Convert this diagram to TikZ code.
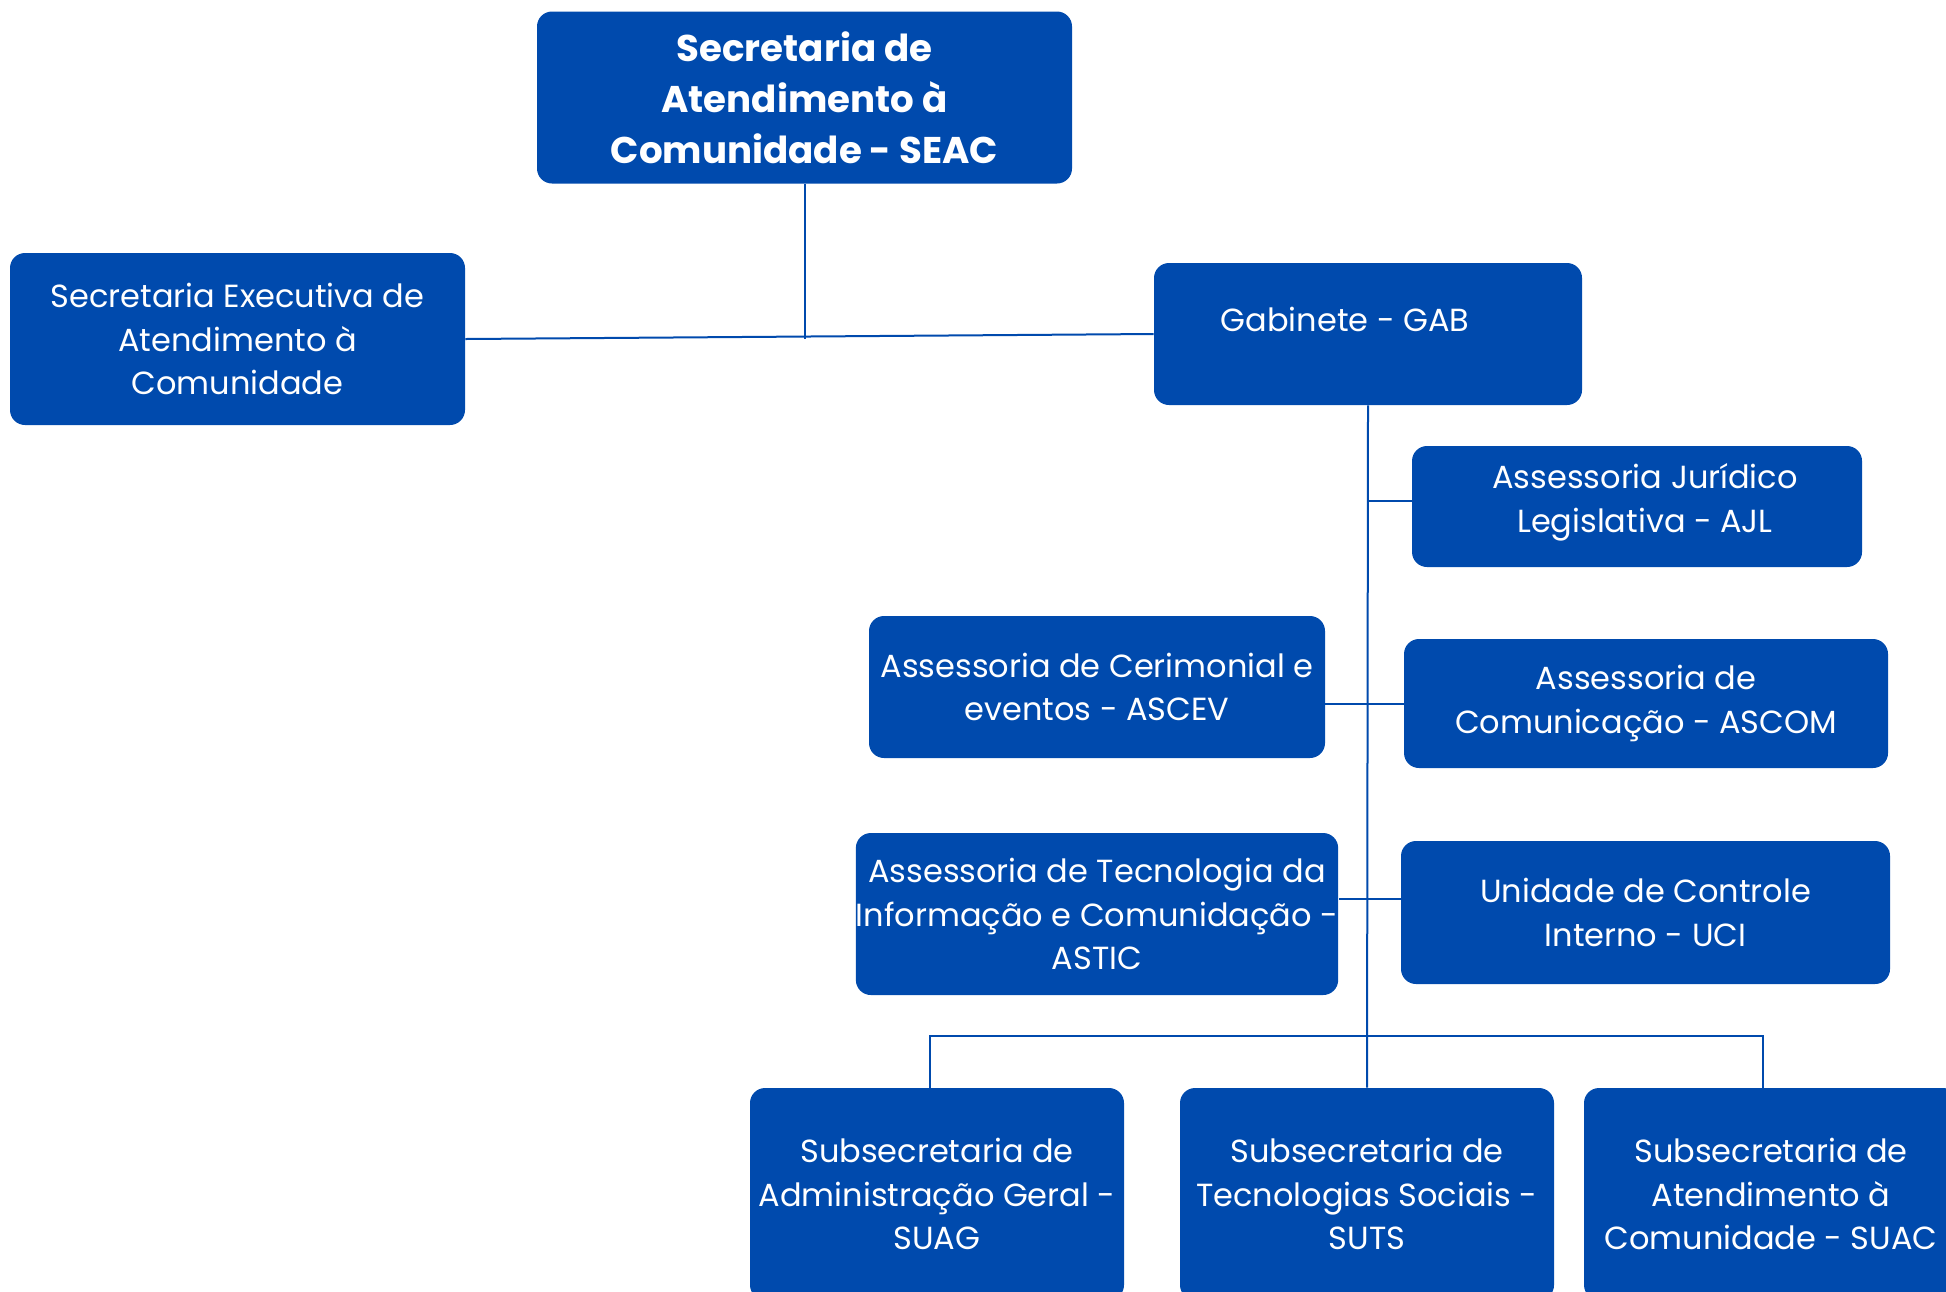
\documentclass[tikz,border=0pt]{standalone}
\usepackage{fontspec}
\setmainfont{Poppins}
\usepackage{xcolor}
\usepackage{tikz}
\definecolor{seacblue}{RGB}{0,74,173}
\newcommand{\orgfont}{\fontsize{16}{21.75}\selectfont}
\newcommand{\orgtitle}{\fontsize{18.6}{25.5}\selectfont\bfseries}
\tikzset{
    orgbox/.style={fill=seacblue, rounded corners=7.5pt, text=white, align=center, font=\orgfont, inner sep=0pt},
    boxsize/.style 2 args={minimum width=#1*0.5pt, minimum height=#2*0.5pt},
    link/.style={draw=seacblue, line width=1pt},
}

\begin{document}
\begin{tikzpicture}[x=0.5pt, y=-0.5pt]
        \useasboundingbox (0,0) rectangle (1946,1291);
        \clip (0,0) rectangle (1946,1291);
        \node[orgbox, boxsize={535}{172}, font=\orgtitle] (seac) at (804.5,97.5) {Secretaria de\\Atendimento à\\Comunidade - SEAC};
        \node[orgbox, boxsize={455}{172}] (sec) at (237.5,339) {Secretaria Executiva de\\Atendimento à\\Comunidade};
        \node[orgbox, boxsize={428}{142}, label={[text=white, font=\orgfont, xshift=-11.5pt, yshift=7.5pt]center:Gabinete - GAB}] (gab) at (1368,334) {};
        \node[orgbox, boxsize={450}{121}, label={[text=white, font=\orgfont, align=center, xshift=4pt, yshift=2pt]center:Assessoria Jurídico\\Legislativa - AJL}] (ajl) at (1637,506.5) {};
        \node[orgbox, boxsize={456}{142}] (ascev) at (1097,687) {Assessoria de Cerimonial e\\eventos - ASCEV};
        \node[orgbox, boxsize={484}{129}] (ascom) at (1646,703.5) {Assessoria de\\Comunicação - ASCOM};
        \node[orgbox, boxsize={482}{162}] (astic) at (1097,914) {Assessoria de Tecnologia da\\Informação e Comunidação -\\ASTIC};
        \node[orgbox, boxsize={489}{143}] (uci) at (1645.5,912.5) {Unidade de Controle\\Interno - UCI};
        \node[orgbox, boxsize={374}{212}] (suag) at (937,1194) {Subsecretaria de\\Administração Geral -\\SUAG};
        \node[orgbox, boxsize={374}{212}] (suts) at (1367,1194) {Subsecretaria de\\Tecnologias Sociais -\\SUTS};
        \node[orgbox, boxsize={374}{212}] (suac) at (1771,1194) {Subsecretaria de\\Atendimento à\\Comunidade - SUAC};
        \coordinate (bus) at (1368,1036);

        \draw[link] (sec.east) -- (gab.west);
        \draw[link] (seac.south) -- (seac.south |- sec.east);
        \draw[link] (gab.south) -- (suts.north);
        \draw[link] ([yshift=3pt]ajl.west) -- ([yshift=3pt]ajl.west -| gab.south);
        \draw[link] (ascom.west) -- (ascom.west -| ascev.east);
        \draw[link] ([yshift=7pt]uci.west) -- ([yshift=7pt]uci.west -| astic.east);
        \draw[link] ([xshift=-3.5pt]suag.north) |- (bus) -| ([xshift=-4pt]suac.north);
    \end{tikzpicture}
\end{document}
